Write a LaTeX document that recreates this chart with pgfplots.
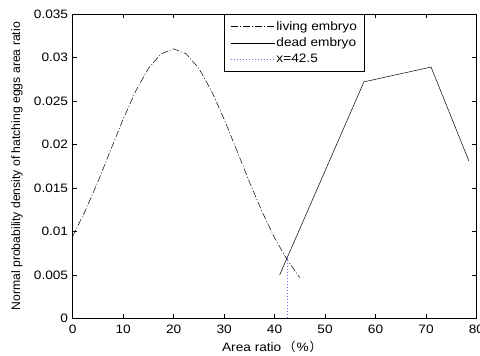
\documentclass[border=0pt]{standalone}
\usepackage{fontspec}
\setmainfont{Liberation Sans}[FakeStretch=1.12]
\newfontfamily\ylfont{Liberation Sans}
\newfontfamily\cjk{Noto Sans CJK SC}
\usepackage{pgfplots}
\pgfplotsset{compat=1.18}
\definecolor{dotblue}{RGB}{110,110,255}
\newcommand{\tf}{\fontsize{12.2}{14}\selectfont}
\begin{document}
\begin{tikzpicture}
\begin{axis}[
  scale only axis,
  width=403.8pt, height=304.5pt,
  xmin=0, xmax=80, ymin=0, ymax=0.035,
  scaled y ticks=false, scaled x ticks=false,
  axis line style={black, line width=0.6pt},
  tick style={black, line width=0.5pt},
  major tick length=4pt,
  tick align=inside,
  xtick pos=both, ytick pos=both,
  xticklabel pos=lower, yticklabel pos=left,
  xtick={0,10,20,30,40,50,60,70,80},
  xticklabels={0,10,20,30,40,50,60,70,80},
  ytick={0,0.005,0.01,0.015,0.02,0.025,0.03,0.035},
  yticklabels={0,0.005,0.01,0.015,0.02,0.025,0.03,0.035},
  xticklabel style={font=\tf, inner sep=0pt, anchor=north, yshift=-6.5pt},
  yticklabel style={font=\tf, inner sep=0pt, anchor=east, xshift=-4.4pt},
  xlabel={Area ratio\hspace{2pt}{\cjk （}\hspace{1pt}\%\hspace{1pt}{\cjk ）}},
  ylabel={Normal probability density of hatching eggs area ratio},
  xlabel style={font=\tf, at={(axis description cs:0.4936,-0.0936)}, anchor=center},
  ylabel style={font=\ylfont\fontsize{12.2}{14}\selectfont, at={(axis description cs:-0.138,0.5)}, anchor=center},
  legend style={at={(axis description cs:0.3747,1)}, anchor=north west,
    draw=black, line width=0.5pt, fill=white, font=\tf,
    inner xsep=6pt, inner ysep=5.5pt, row sep=3pt,
    nodes={inner sep=1.5pt},
    cells={anchor=west},
    /tikz/every even column/.append style={column sep=0pt}},
  legend image code/.code={\draw[#1] (0pt,0pt) -- (44pt,0pt);},
]
\addplot[black, line width=0.5pt, dash pattern=on 7pt off 2pt on 1pt off 2pt] coordinates {
  (0,0.00945) (2.5,0.01240) (5,0.01572) (7.5,0.01934) (10,0.02292)
  (12.5,0.02616) (15,0.02875) (17.5,0.03042) (20,0.03100) (22.5,0.03042)
  (25,0.02875) (27.5,0.02616) (30,0.02292) (32.5,0.01934) (35,0.01572)
  (37.5,0.01230) (40,0.00927) (42.5,0.00673) (45,0.00470)
};
\addlegendentry{living embryo}
\addplot[black, line width=0.5pt] coordinates {
  (41,0.0050) (57.7,0.0272) (71,0.0289) (78.5,0.0181)
};
\addlegendentry{dead embryo}
\addplot[dotblue, line width=0.7pt, dash pattern=on 1pt off 2pt] coordinates {
  (42.5,0) (42.5,0.0069)
};
\addlegendentry{x=42.5}
\end{axis}
\pgfresetboundingbox
\path (-72.7pt,-37.5pt) rectangle (407.3pt,318.5pt);
\end{tikzpicture}
\end{document}
